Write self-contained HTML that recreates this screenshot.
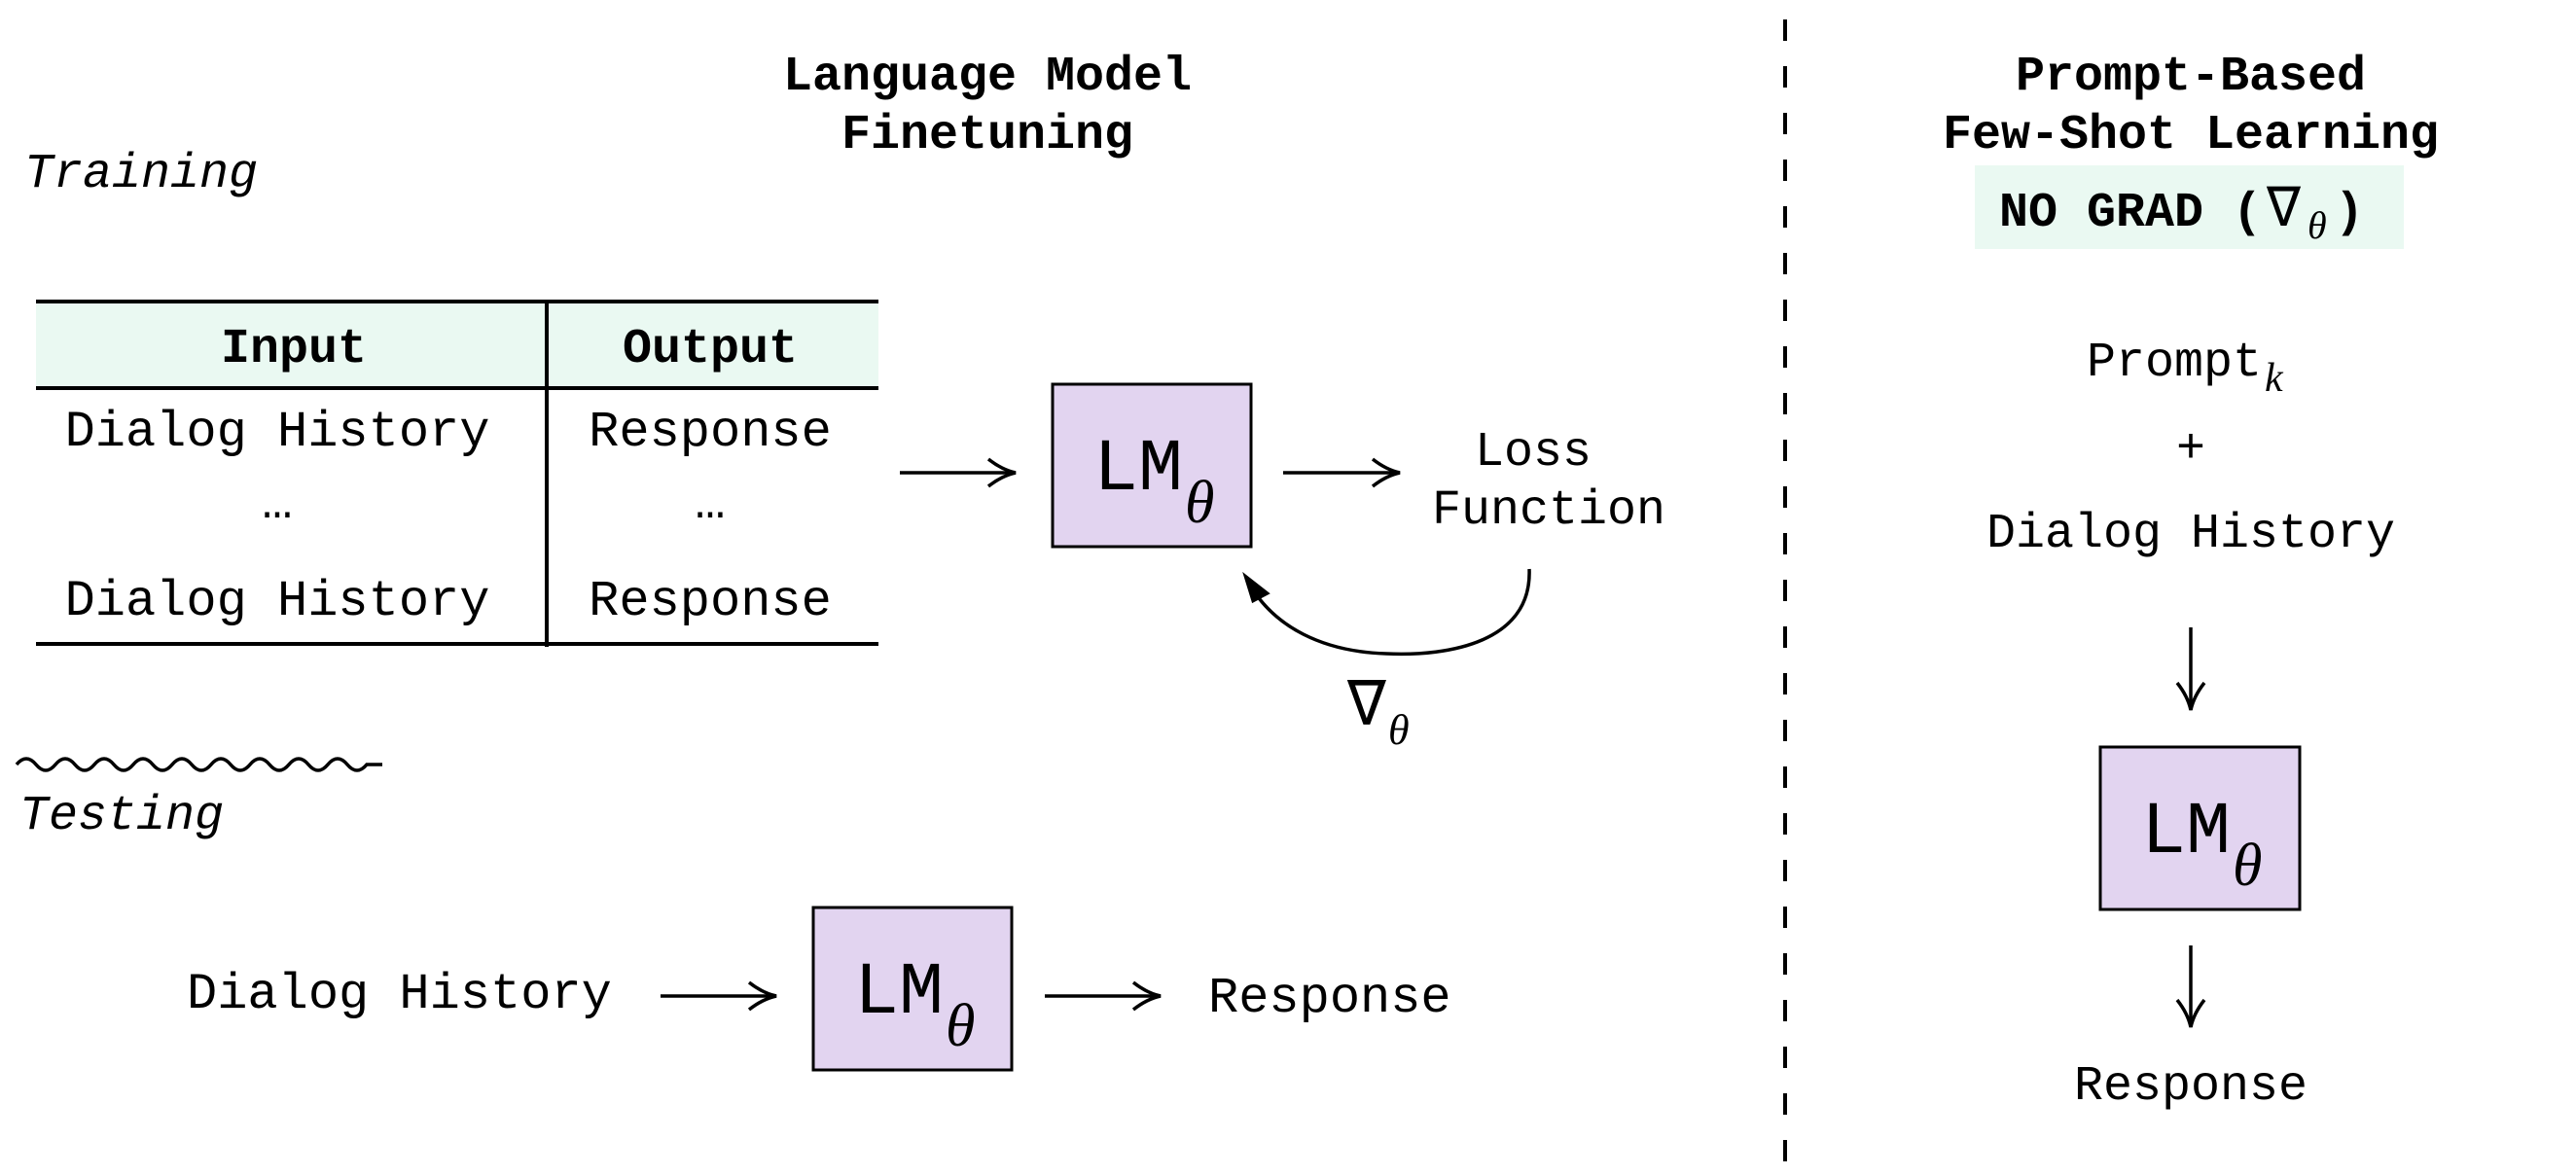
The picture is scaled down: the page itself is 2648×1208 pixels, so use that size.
<!DOCTYPE html>
<html><head><meta charset="utf-8"><style>
html,body{margin:0;padding:0;background:#fff;}
svg{display:block;}
text{font-family:"Liberation Mono",monospace;fill:#000;}
.b{font-weight:bold;}
.it{font-style:italic;}
.m{font-family:"Liberation Serif",serif;font-style:italic;}
</style></head><body>
<svg width="2648" height="1208" viewBox="0 0 2648 1208" xmlns="http://www.w3.org/2000/svg">
<defs>
<marker id="ah" markerWidth="40" markerHeight="40" refX="30" refY="16" orient="auto" markerUnits="userSpaceOnUse">
<path d="M2,2 Q16,13 30,16 Q16,19 2,30" fill="none" stroke="#000" stroke-width="3.5"/>
</marker>
</defs>
<!-- Titles -->
<text x="1015" y="92" font-size="50" text-anchor="middle" class="b">Language Model</text>
<text x="1015" y="152" font-size="50" text-anchor="middle" class="b">Finetuning</text>
<text x="25" y="192" font-size="50" class="it">Training</text>

<!-- Table -->
<rect x="37" y="310" width="866" height="89" fill="#eaf9f2"/>
<line x1="37" y1="310" x2="903" y2="310" stroke="#000" stroke-width="4"/>
<line x1="37" y1="399" x2="903" y2="399" stroke="#000" stroke-width="4"/>
<line x1="37" y1="662" x2="903" y2="662" stroke="#000" stroke-width="4"/>
<line x1="562" y1="310" x2="562" y2="665" stroke="#000" stroke-width="4"/>
<text x="302" y="372" font-size="50" text-anchor="middle" class="b">Input</text>
<text x="730" y="372" font-size="50" text-anchor="middle" class="b">Output</text>
<text x="285" y="458" font-size="52" text-anchor="middle">Dialog History</text>
<text x="730" y="458" font-size="52" text-anchor="middle">Response</text>
<text x="285" y="532" font-size="52" text-anchor="middle">…</text>
<text x="730" y="532" font-size="52" text-anchor="middle">…</text>
<text x="285" y="632" font-size="52" text-anchor="middle">Dialog History</text>
<text x="730" y="632" font-size="52" text-anchor="middle">Response</text>

<!-- Training flow -->
<line x1="925" y1="486" x2="1044" y2="486" stroke="#000" stroke-width="3.5" marker-end="url(#ah)"/>
<rect x="1082" y="395" width="204" height="167" fill="#e2d4f0" stroke="#000" stroke-width="3"/>
<text x="1124" y="503" font-size="76" textLength="92" lengthAdjust="spacingAndGlyphs">LM</text>
<text x="1218" y="537" font-size="62" class="m">θ</text>
<line x1="1319" y1="486" x2="1439" y2="486" stroke="#000" stroke-width="3.5" marker-end="url(#ah)"/>
<text x="1576" y="478" font-size="50" text-anchor="middle">Loss</text>
<text x="1592" y="538" font-size="50" text-anchor="middle">Function</text>
<path d="M1572,585 C1575,660 1490,675 1425,672 C1360,670 1310,645 1284,600" fill="none" stroke="#000" stroke-width="3.5"/>
<path d="M1280,592 L1303,610 L1288,618 Z" fill="#000" stroke="#000" stroke-width="3"/>
<text x="1385" y="745" font-size="66" font-family="Liberation Serif,serif">∇</text>
<text x="1427" y="765" font-size="44" class="m">θ</text>

<!-- Wavy -->
<path d="M17,786 q10,-12 20,0 q10,12 20,0 q10,-12 20,0 q10,12 20,0 q10,-12 20,0 q10,12 20,0 q10,-12 20,0 q10,12 20,0 q10,-12 20,0 q10,12 20,0 q10,-12 20,0 q10,12 20,0 q10,-12 20,0 q10,12 20,0 q10,-12 20,0 q10,12 20,0 q10,-12 20,0 q10,12 20,0 l16,0" fill="none" stroke="#000" stroke-width="3.5"/>
<text x="20" y="852" font-size="50" class="it">Testing</text>

<!-- Testing flow -->
<text x="192" y="1036" font-size="52">Dialog History</text>
<line x1="679" y1="1024" x2="798" y2="1024" stroke="#000" stroke-width="3.5" marker-end="url(#ah)"/>
<rect x="836" y="933" width="204" height="167" fill="#e2d4f0" stroke="#000" stroke-width="3"/>
<text x="878" y="1041" font-size="76" textLength="92" lengthAdjust="spacingAndGlyphs">LM</text>
<text x="972" y="1075" font-size="62" class="m">θ</text>
<line x1="1074" y1="1024" x2="1193" y2="1024" stroke="#000" stroke-width="3.5" marker-end="url(#ah)"/>
<text x="1242" y="1040" font-size="52">Response</text>

<!-- Divider -->
<line x1="1835" y1="20" x2="1835" y2="1208" stroke="#000" stroke-width="4" stroke-dasharray="22,26"/>

<!-- Right side -->
<text x="2252" y="92" font-size="50" text-anchor="middle" class="b">Prompt-Based</text>
<text x="2252" y="152" font-size="50" text-anchor="middle" class="b">Few-Shot Learning</text>
<rect x="2030" y="170" width="441" height="86" fill="#eaf9f2"/>
<text x="2055" y="232" font-size="50" class="b">NO GRAD (</text>
<text x="2330" y="232" font-size="58" font-family="Liberation Serif,serif">∇</text>
<text x="2372" y="245" font-size="40" class="m">θ</text>
<text x="2400" y="232" font-size="50" class="b">)</text>
<text x="2145" y="386" font-size="50">Prompt</text>
<text x="2328" y="402" font-size="42" class="m">k</text>
<text x="2252" y="475" font-size="50" text-anchor="middle">+</text>
<text x="2252" y="562" font-size="50" text-anchor="middle">Dialog History</text>
<line x1="2252" y1="645" x2="2252" y2="730" stroke="#000" stroke-width="3.5" marker-end="url(#ah)"/>
<rect x="2159" y="768" width="205" height="167" fill="#e2d4f0" stroke="#000" stroke-width="3"/>
<text x="2201" y="876" font-size="76" textLength="92" lengthAdjust="spacingAndGlyphs">LM</text>
<text x="2295" y="910" font-size="62" class="m">θ</text>
<line x1="2252" y1="972" x2="2252" y2="1056" stroke="#000" stroke-width="3.5" marker-end="url(#ah)"/>
<text x="2252" y="1130" font-size="50" text-anchor="middle">Response</text>
</svg>
</body></html>
